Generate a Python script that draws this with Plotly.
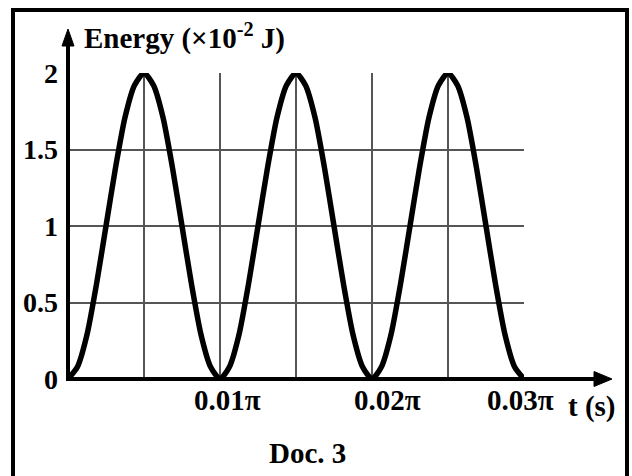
import numpy as np
import plotly.graph_objects as go

# ---- data ----
# energy in units of 1e-2 J, sampled every 1/16 of a period (period = 0.01*pi s)
energy = [0, 0.08, 0.29, 0.62, 1.0, 1.38, 1.71, 1.92, 2.0, 1.92, 1.71, 1.38, 1.0, 0.62, 0.29, 0.08,
          0, 0.08, 0.29, 0.62, 1.0, 1.38, 1.71, 1.92, 2.0, 1.92, 1.71, 1.38, 1.0, 0.62, 0.29, 0.08,
          0, 0.08, 0.29, 0.62, 1.0, 1.38, 1.71, 1.92, 2.0, 1.92, 1.71, 1.38, 1.0, 0.62, 0.29, 0.08, 0]
t_start = 0.0
t_end = 0.03 * np.pi          # seconds
t = list(np.linspace(t_start, t_end, len(energy)))

x_grid_vals = [0.005 * np.pi * k for k in range(1, 7)]
x_tick_vals = [0.01 * np.pi, 0.02 * np.pi, 0.03 * np.pi]
x_tick_text = ["0.01π", "0.02π", "0.03π"]
y_tick_vals = [0, 0.5, 1, 1.5, 2]
y_tick_text = ["0", "0.5", "1", "1.5", "2"]

# ---- layout geometry (pixels) ----
W, H = 632, 476
L, R, T, B = 68, 524, 73, 379
PW, PH = R - L, B - T


def px(xp):
    return (xp - L) / PW


def py(yp):
    return (B - yp) / PH


FONT = "Liberation Serif"
tf = dict(family=FONT, size=28, color="black", weight="bold")
tfx = dict(family=FONT, size=29, color="black", weight="bold")

fig = go.Figure()
fig.add_trace(go.Scatter(
    x=t, y=energy, mode="lines",
    line=dict(color="black", width=5.5, shape="spline", smoothing=0.65),
    cliponaxis=False, hoverinfo="skip", showlegend=False,
))

fig.update_layout(
    width=W, height=H,
    margin=dict(l=L, r=W - R, t=T, b=H - B, pad=0),
    paper_bgcolor="white", plot_bgcolor="white",
    xaxis=dict(range=[t_start, t_end], tickvals=x_grid_vals, showticklabels=False,
               showgrid=True, gridcolor="#555", gridwidth=1.5, zeroline=False,
               showline=False, ticks=""),
    yaxis=dict(range=[0, 2], tickvals=y_tick_vals, ticktext=y_tick_text,
               showgrid=True, gridcolor="#555", gridwidth=1.5, zeroline=False,
               showline=False, ticks="", ticklabelstandoff=9,
               tickfont=tf),
)

shapes = []
# outer border
shapes.append(dict(type="rect", xref="paper", yref="paper",
                   x0=px(13), x1=px(627), y0=py(500), y1=py(10),
                   line=dict(color="black", width=4), fillcolor="rgba(0,0,0,0)", layer="above"))
# x axis with arrow
shapes.append(dict(type="line", xref="paper", yref="paper", x0=px(L), x1=px(598),
                   y0=py(B), y1=py(B), line=dict(color="black", width=4), layer="above"))
shapes.append(dict(type="path", xref="paper", yref="paper",
                   path=f"M {px(612)} {py(B)} L {px(594)} {py(B - 7.5)} L {px(594)} {py(B + 7.5)} Z",
                   fillcolor="black", line=dict(color="black", width=1), layer="above"))
# y axis with arrow
shapes.append(dict(type="line", xref="paper", yref="paper", x0=px(L), x1=px(L),
                   y0=py(B + 2), y1=py(44), line=dict(color="black", width=4), layer="above"))
shapes.append(dict(type="path", xref="paper", yref="paper",
                   path=f"M {px(L)} {py(29)} L {px(L - 6)} {py(46)} L {px(L + 6)} {py(46)} Z",
                   fillcolor="black", line=dict(color="black", width=1), layer="above"))
fig.update_layout(shapes=shapes)

# x tick labels (hand-placed in the original)
x_label_shift = [7, 15, -4]
for xv, txt, sh in zip(x_tick_vals, x_tick_text, x_label_shift):
    fig.add_annotation(x=xv, y=py(400), xref="x", yref="paper", xanchor="center", yanchor="middle",
                       xshift=sh, text=txt, showarrow=False, font=tfx)

fig.add_annotation(x=px(82), y=py(37), xref="paper", yref="paper", xanchor="left", yanchor="middle",
                   text="Energy (×10<sup>-2</sup> J)", showarrow=False, font=tfx)
fig.add_annotation(x=px(592), y=py(406), xref="paper", yref="paper", xanchor="center", yanchor="middle",
                   text="t (s)", showarrow=False, font=tfx)
fig.add_annotation(x=px(307), y=py(453), xref="paper", yref="paper", xanchor="center", yanchor="middle",
                   text="Doc. 3", showarrow=False, font=tfx)

fig.write_html("out.html", config={"displayModeBar": False},
               post_script="document.body.style.margin='0px';")
